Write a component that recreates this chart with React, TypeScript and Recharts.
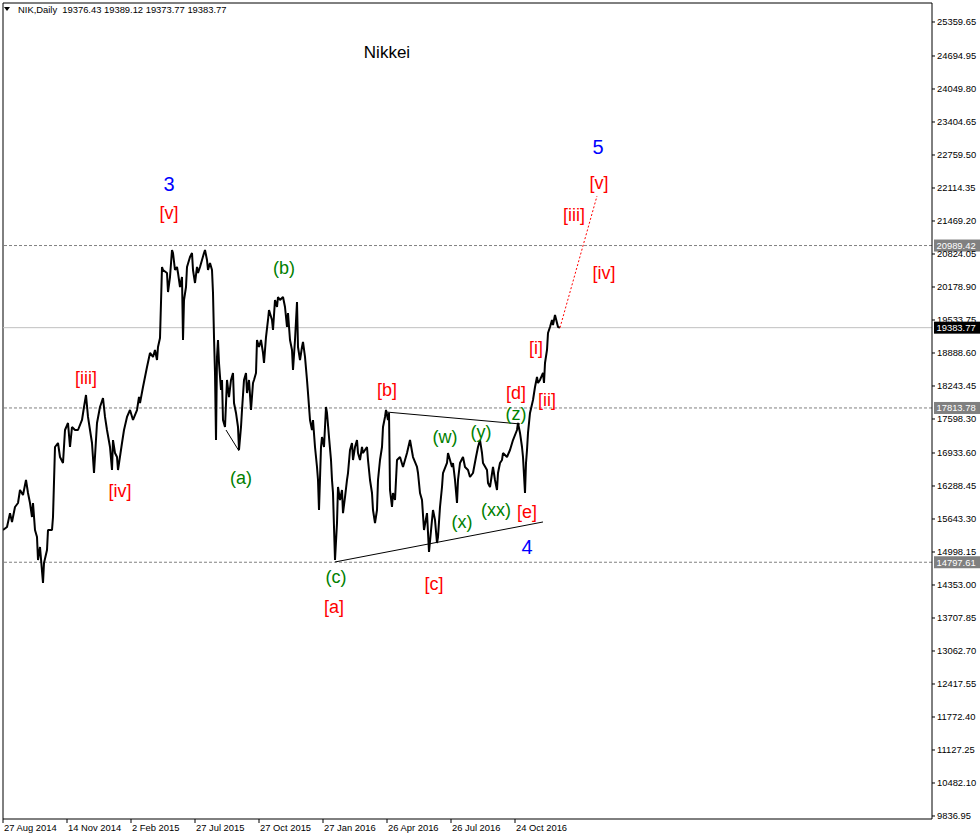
import React from 'react';
import { ComposedChart, Line, XAxis, YAxis, ReferenceLine, Scatter } from 'recharts';

// Trading-day index (1 bar per day, starting 27 Aug 2014) and daily closes
const dayIndex = [0,4,7,9,12,15,17,20,23,25,27,29,30,32,34,35,37,40,41,44,45,49,50,52,55,57,60,62,65,67,69,72,75,79,81,83,85,87,89,91,94,97,100,102,104,107,109,110,112,114,115,119,121,124,127,130,134,136,137,140,144,147,150,152,154,155,157,159,160,164,165,167,169,170,172,174,175,177,179,180,181,183,184,187,189,190,192,194,195,197,199,201,202,204,205,207,209,210,211,212,213,214,215,216,218,219,220,222,224,226,228,230,231,233,235,236,238,239,241,243,244,246,248,250,251,253,254,256,258,260,261,263,265,266,269,270,272,274,275,277,280,282,284,285,287,289,290,292,294,295,297,299,300,302,304,305,307,309,310,312,314,315,316,318,319,321,323,324,326,328,329,330,331,332,334,335,337,339,340,342,344,345,347,349,350,352,354,355,357,359,360,362,364,365,367,369,370,372,374,375,377,379,380,382,383,385,386,387,389,390,392,394,397,400,404,407,410,414,415,417,419,421,424,426,429,430,432,434,435,437,439,440,444,445,449,450,452,454,455,457,460,462,465,467,470,473,475,477,479,480,484,485,487,490,492,494,495,497,499,500,504,507,510,514,515,517,519,520,522,523,524,525,527,530,532,534,535,537,540,541,542,544,545,547,549,550,552,554,555,557];
const closes = [15428,15487,15758,15585,15878,15956,16210,16112,16406,16151,15956,15682,15956,15428,15291,14842,15096,14392,14783,15037,15428,15428,15682,17051,17129,16855,16738,17383,17520,17051,17442,17383,17383,17579,17833,18067,17638,17383,17129,16542,17520,17833,18009,17638,17383,17051,16601,17187,16933,16855,16601,17129,17383,17638,17774,17579,17774,18028,17911,18224,18615,18889,18811,18948,18752,19006,19182,20570,20511,20453,20081,20374,20902,20843,20511,20570,20453,20179,20374,19143,19925,20179,20570,20765,20843,20511,20257,20570,20453,20570,20707,20843,20902,20707,20511,20648,20511,20062,19201,18498,17187,18811,19143,18693,18165,18361,17579,17442,18361,18028,18361,18498,17911,17716,17442,16992,17442,17774,18361,18498,18106,18361,17774,18302,18361,18498,19143,19006,19143,18889,18693,19201,19534,19729,19534,19338,19925,19788,19983,19925,19983,19788,19397,19671,19143,18948,18556,19143,19886,19006,18752,19006,19104,18811,18361,18106,17579,17383,17579,17051,16660,16406,15819,17051,17246,17051,17833,17716,17246,16797,16406,16151,15487,14842,15565,16269,16015,16210,15758,16073,16406,16542,16992,17129,16797,17051,17187,16933,16797,17051,16933,16992,17051,16797,16406,16151,15819,15565,15819,16406,16797,17051,17442,17638,17774,17579,17716,16210,15878,16151,16015,16797,16855,16660,16933,17187,16855,16660,16542,16151,16015,15428,15758,14998,15624,15819,15624,15174,15291,15878,16269,16542,16738,16933,16660,16738,16406,15956,16406,16738,16855,16660,16601,16464,16542,16855,17051,17187,16933,16738,16601,16347,16269,16660,16406,16210,16542,16738,16797,16933,16855,16992,17187,17383,17520,17325,17051,16855,16151,16738,16992,17325,17716,17970,18224,18420,18302,18361,18498,18302,18693,18948,19279,19397,19534,19436,19632,19475,19397,19384];

const priceData = dayIndex.map((d, i) => ({ day: d, price: closes[i] }));

// Axis ticks
const dateTickDays = [0, 64, 128, 192, 256, 320, 384, 448, 512];
const dateTickLabels = ['27 Aug 2014', '14 Nov 2014', '2 Feb 2015', '27 Jul 2015', '27 Oct 2015', '27 Jan 2016', '26 Apr 2016', '26 Jul 2016', '24 Oct 2016'];
const priceTicks = [25359.65, 24694.95, 24049.80, 23404.65, 22759.50, 22114.35, 21469.20, 20824.05, 20178.90, 19533.75, 18888.60, 18243.45, 17598.30, 16933.60, 16288.45, 15643.30, 14998.15, 14353.00, 13707.85, 13062.70, 12417.55, 11772.40, 11127.25, 10482.10, 9836.95];
const priceDomain = [9778, 25731];
const dayDomain = [0, 929];

// Horizontal levels
const levelPrices = [20989.42, 17813.78, 14797.61];
const lastPrice = 19383.77;

// Trend lines (day, price)
const triUpperDays = [383, 517];
const triUpperPrices = [17735, 17501];
const triLowerDays = [332, 540];
const triLowerPrices = [14803, 15585];
const waveALineDays = [223, 236];
const waveALinePrices = [17383, 16973];
const projectionDays = [557, 594];
const projectionPrices = [19384, 21958];

const toPts = (days: number[], prices: number[]) => days.map((d, i) => ({ day: d, price: prices[i] }));

// Wave labels
const redTexts = ['[v]', '[iii]', '[iv]', '[b]', '[a]', '[c]', '[d]', '[e]', '[ii]', '[i]', '[iv]', '[iii]', '[v]'];
const redDays = [166, 83, 117, 384, 331, 431, 513, 524, 544, 533, 601, 571, 596];
const redPrices = [21626, 18400, 16191, 18165, 13923, 14373, 18107, 15780, 17970, 18986, 20453, 21587, 22212];

const greenTexts = ['(b)', '(a)', '(c)', '(w)', '(y)', '(z)', '(x)', '(xx)'];
const greenDays = [281, 238, 333, 442, 478, 513, 459, 493];
const greenPrices = [20550, 16445, 14509, 17246, 17344, 17696, 15585, 15819];

const blueTexts = ['3', '4', '5'];
const blueDays = [166, 524, 595];
const bluePrices = [22193, 15096, 22916];

const toLabels = (texts: string[], days: number[], prices: number[]) =>
  texts.map((t, i) => ({ text: t, day: days[i], price: prices[i] }));

const AXIS_FONT = 'Liberation Sans, Arial, sans-serif';

const makeTextShape = (color: string, size: number) => (props: any) => (
  <text
    x={props.cx}
    y={props.cy}
    fill={color}
    fontSize={size}
    fontFamily={AXIS_FONT}
    textAnchor="middle"
    dominantBaseline="central"
  >
    {props.payload.text}
  </text>
);

const DateTick = (props: any) => {
  const { x, y, payload } = props;
  const idx = dateTickDays.indexOf(payload.value);
  return (
    <text x={x + 1} y={y + 7} fontSize={9.4} fontFamily={AXIS_FONT} fill="#000" textAnchor="start">
      {idx >= 0 ? dateTickLabels[idx] : ''}
    </text>
  );
};

const PriceTick = (props: any) => {
  const { x, y, payload } = props;
  return (
    <text x={x} y={y + 3.3} fontSize={9.4} fontFamily={AXIS_FONT} fill="#000" textAnchor="start">
      {Number(payload.value).toFixed(2)}
    </text>
  );
};

const boxLabel = (text: string, bg: string) => (props: any) => {
  const vb = props.viewBox || {};
  const x = (vb.x || 0) + (vb.width || 0) + 2;
  const y = vb.y || 0;
  return (
    <g>
      <rect x={x} y={y - 6} width={46} height={12} fill={bg} />
      <text x={x + 2.5} y={y + 3.4} fill="#fff" fontSize={9.4} fontFamily={AXIS_FONT}>
        {text}
      </text>
    </g>
  );
};

export default function App() {
  return (
    <div style={{ position: 'absolute', left: 0, top: 0, width: 980, height: 840, background: '#fff' }}>
      <ComposedChart
        width={980}
        height={840}
        data={priceData}
        margin={{ top: 3, right: 0, bottom: 0, left: 3 }}
      >
        <XAxis
          dataKey="day"
          type="number"
          domain={dayDomain}
          allowDataOverflow
          ticks={dateTickDays}
          interval={0}
          height={21}
          tickSize={4}
          tickMargin={1}
          axisLine={{ stroke: '#000' }}
          tickLine={{ stroke: '#000' }}
          tick={<DateTick />}
        />
        <YAxis
          orientation="right"
          type="number"
          domain={priceDomain}
          allowDataOverflow
          ticks={priceTicks}
          interval={0}
          width={48}
          tickSize={3}
          tickMargin={2}
          axisLine={{ stroke: '#000' }}
          tickLine={{ stroke: '#000' }}
          tick={<PriceTick />}
        />
        <ReferenceLine x={0} stroke="#000" />
        <ReferenceLine y={priceDomain[1]} stroke="#000" />
        {levelPrices.map((p) => (
          <ReferenceLine
            key={p}
            y={p}
            stroke="#808080"
            strokeDasharray="3 2"
            label={boxLabel(p.toFixed(2), '#808080')}
          />
        ))}
        <ReferenceLine y={lastPrice} stroke="#c0c0c0" label={boxLabel(lastPrice.toFixed(2), '#000')} />

        <Line
          data={toPts(triUpperDays, triUpperPrices)}
          dataKey="price"
          stroke="#000"
          strokeWidth={1}
          dot={false}
          isAnimationActive={false}
        />
        <Line
          data={toPts(triLowerDays, triLowerPrices)}
          dataKey="price"
          stroke="#000"
          strokeWidth={1}
          dot={false}
          isAnimationActive={false}
        />
        <Line
          data={toPts(waveALineDays, waveALinePrices)}
          dataKey="price"
          stroke="#000"
          strokeWidth={1}
          dot={false}
          isAnimationActive={false}
        />
        <Line
          data={priceData}
          dataKey="price"
          stroke="#000"
          strokeWidth={2}
          strokeLinejoin="bevel"
          dot={false}
          isAnimationActive={false}
        />
        <Line
          data={toPts(projectionDays, projectionPrices)}
          dataKey="price"
          stroke="#ff0000"
          strokeWidth={1}
          strokeDasharray="2 2"
          dot={false}
          isAnimationActive={false}
        />
        <Scatter
          data={toLabels(redTexts, redDays, redPrices)}
          dataKey="price"
          shape={makeTextShape('#ff0000', 18)}
          isAnimationActive={false}
        />
        <Scatter
          data={toLabels(greenTexts, greenDays, greenPrices)}
          dataKey="price"
          shape={makeTextShape('#008000', 18)}
          isAnimationActive={false}
        />
        <Scatter
          data={toLabels(blueTexts, blueDays, bluePrices)}
          dataKey="price"
          shape={makeTextShape('#0000ff', 20)}
          isAnimationActive={false}
        />
      </ComposedChart>
      <svg style={{ position: 'absolute', left: 0, top: 0 }} width={16} height={16}>
        <polygon points="4,7 10,7 7,11" fill="#000" />
      </svg>
      <div
        style={{
          position: 'absolute',
          left: 18,
          top: 4,
          fontFamily: AXIS_FONT,
          fontSize: 9.4,
          lineHeight: '12px',
          whiteSpace: 'pre',
          color: '#000',
        }}
      >
        {'NIK,Daily  19376.43 19389.12 19373.77 19383.77'}
      </div>
      <div
        style={{
          position: 'absolute',
          left: 287,
          width: 200,
          top: 43,
          textAlign: 'center',
          fontFamily: AXIS_FONT,
          fontSize: 17,
          lineHeight: '20px',
          color: '#000',
        }}
      >
        Nikkei
      </div>
    </div>
  );
}
